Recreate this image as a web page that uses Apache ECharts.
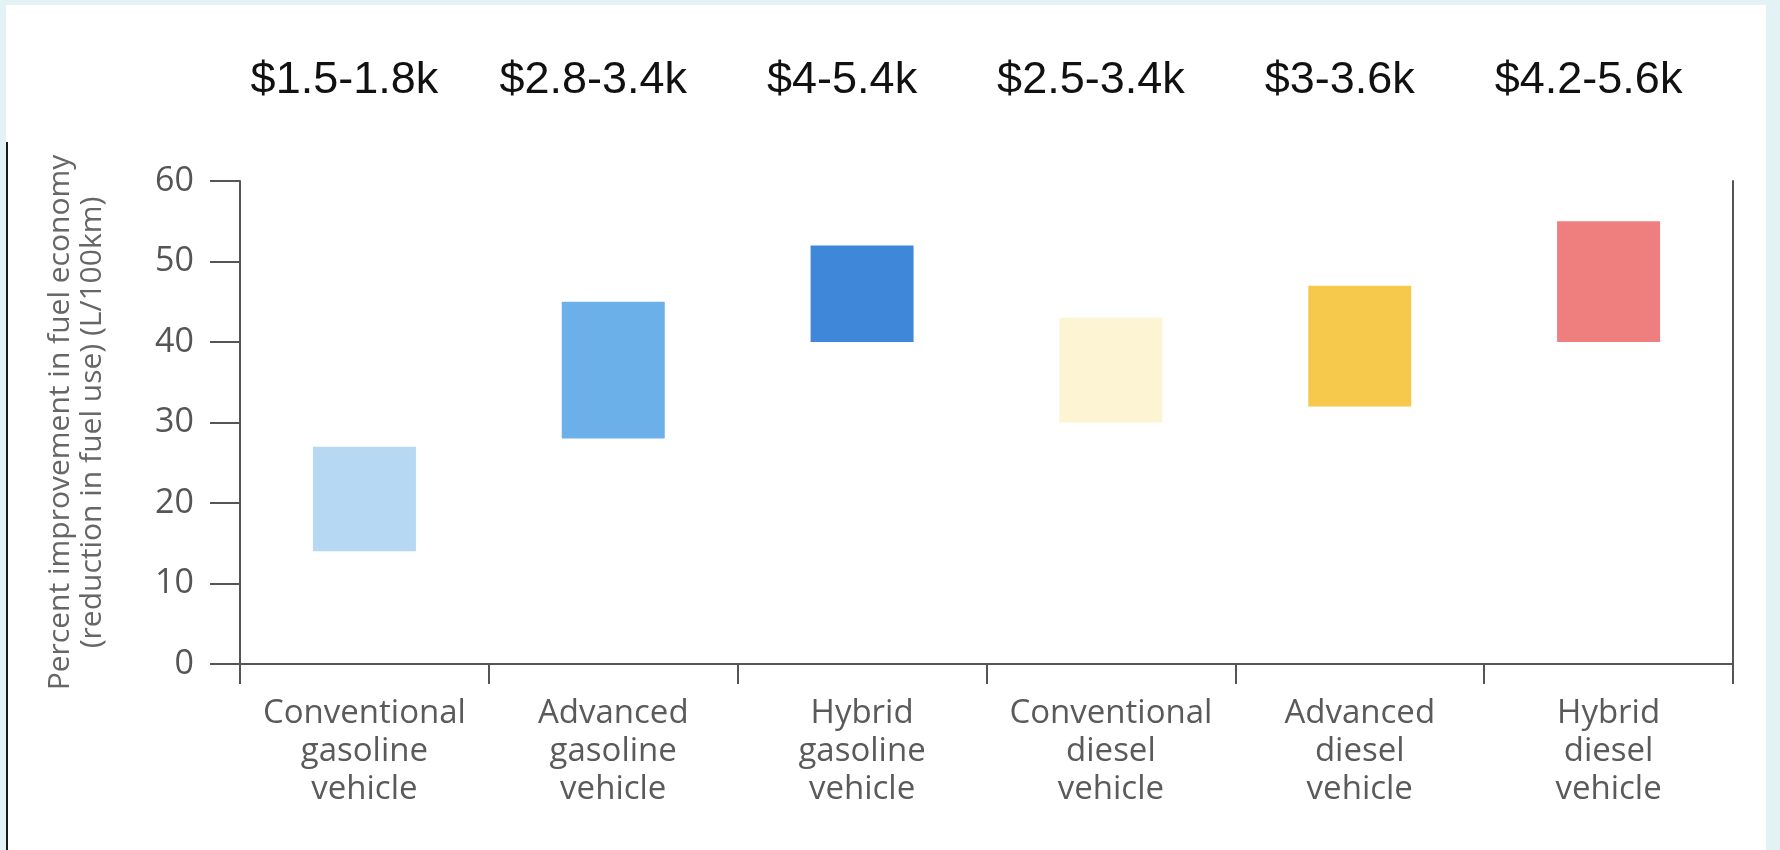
<!DOCTYPE html>
<html>
<head>
<meta charset="utf-8">
<script src="https://cdn.jsdelivr.net/npm/echarts@6/dist/echarts.min.js"></script>
<style>
  html, body { margin: 0; padding: 0; background: #e3f3f5; }
  #frame { position: absolute; left: 6px; top: 5px; width: 1760px; height: 845px; background: #ffffff; }
  #rule { position: absolute; left: 6px; top: 142px; width: 2px; height: 708px; background: #1a1a1a; }
  #chart { position: absolute; left: 0; top: 0; width: 1780px; height: 850px; }
</style>
</head>
<body>
<div id="frame"></div>
<div id="rule"></div>
<div id="chart"></div>
<script>
// Vehicle technologies along the x axis
const categories = [
  'Conventional\ngasoline\nvehicle',
  'Advanced\ngasoline\nvehicle',
  'Hybrid\ngasoline\nvehicle',
  'Conventional\ndiesel\nvehicle',
  'Advanced\ndiesel\nvehicle',
  'Hybrid\ndiesel\nvehicle'
];
// Added cost range for each technology
const costLabels = ['$1.5-1.8k', '$2.8-3.4k', '$4-5.4k', '$2.5-3.4k', '$3-3.6k', '$4.2-5.6k'];
// Fuel economy improvement range (%), low and high ends
const lowValues = [14, 28, 40, 30, 32, 40];
const highValues = [27, 45, 52, 43, 47, 55];
const barColors = ['#b6d8f3', '#6cb0ea', '#3f87d9', '#fdf4d3', '#f6c94c', '#ef7f7e'];
const yTicks = [0, 10, 20, 30, 40, 50, 60];

const axisGray = '#555555';
const labelFont = '"Open Sans", sans-serif';

const chart = echarts.init(document.getElementById('chart'), null, { renderer: 'canvas' });

chart.setOption({
  animation: false,
  backgroundColor: 'transparent',
  grid: { left: 240, right: 47, top: 181, bottom: 186, containLabel: false },
  xAxis: [
    {
      type: 'category',
      data: categories,
      position: 'bottom',
      axisLine: { show: true, lineStyle: { color: axisGray, width: 2 } },
      axisTick: { show: true, interval: 0, length: 20, lineStyle: { color: axisGray, width: 2 } },
      axisLabel: {
        interval: 0,
        hideOverlap: false,
        margin: 31,
        fontSize: 33,
        lineHeight: 38,
        color: '#5a5a5a',
        fontFamily: labelFont
      }
    },
    {
      type: 'category',
      data: costLabels,
      position: 'top',
      axisLine: { show: true, lineStyle: { color: axisGray, width: 2 } },
      axisTick: { show: false },
      axisLabel: {
        interval: 0,
        margin: 78,
        fontSize: 45,
        lineHeight: 45,
        color: '#111111',
        fontFamily: '"Liberation Sans", Arial, sans-serif',
        padding: [0, 40, 0, 0]
      }
    }
  ],
  yAxis: [
    {
      type: 'value',
      min: yTicks[0],
      max: yTicks[yTicks.length - 1],
      interval: 10,
      name: 'Percent improvement in fuel economy\n(reduction in fuel use) (L/100km)',
      nameLocation: 'middle',
      nameGap: 132,
      nameTextStyle: {
        fontSize: 30,
        lineHeight: 32,
        color: '#666666',
        fontFamily: labelFont
      },
      axisLine: { show: true, lineStyle: { color: axisGray, width: 2 } },
      axisTick: { show: true, length: 30, lineStyle: { color: axisGray, width: 2 } },
      axisLabel: {
        margin: 46,
        fontSize: 34,
        color: '#555555',
        fontFamily: labelFont
      },
      splitLine: { show: false }
    },
    {
      type: 'value',
      position: 'right',
      min: yTicks[0],
      max: yTicks[yTicks.length - 1],
      interval: 10,
      axisLine: { show: true, lineStyle: { color: axisGray, width: 2 } },
      axisTick: { show: false },
      axisLabel: { show: false },
      splitLine: { show: false }
    }
  ],
  series: [
    {
      name: 'base',
      type: 'bar',
      stack: 'range',
      barWidth: 103,
      silent: true,
      itemStyle: { color: 'transparent' },
      data: lowValues
    },
    {
      name: 'improvement',
      type: 'bar',
      stack: 'range',
      barWidth: 103,
      data: highValues.map((h, i) => ({
        value: h - lowValues[i],
        itemStyle: { color: barColors[i] }
      }))
    }
  ]
});
</script>
</body>
</html>
